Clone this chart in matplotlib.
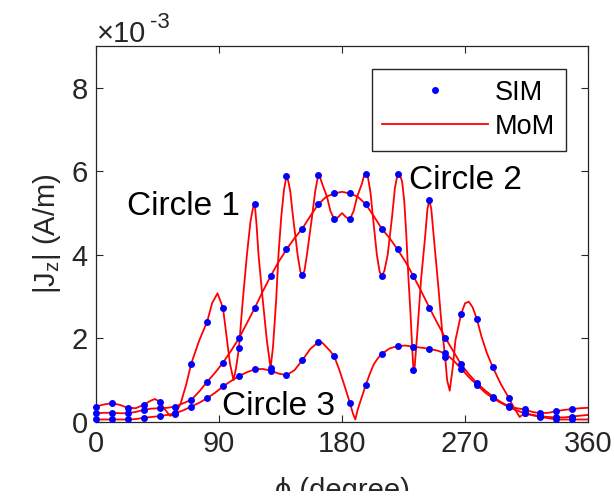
import numpy as np
import matplotlib
matplotlib.use("Agg")
import matplotlib.pyplot as plt
from matplotlib.ticker import FuncFormatter
from matplotlib.transforms import Bbox, TransformedBbox

plt.rcParams['font.family'] = ['Liberation Sans', 'DejaVu Sans']
plt.rcParams['mathtext.fontset'] = 'custom'
plt.rcParams['mathtext.rm'] = 'Liberation Sans'
plt.rcParams['mathtext.it'] = 'Liberation Sans:italic'

# --- SIM samples (31 angles, |Jz| in 1e-3 A/m) ---
sim_phi = np.arange(31) * 360 / 31
sim_c1 = [0.37, 0.45, 0.34, 0.41, 0.49, 0.18, 1.40, 2.40, 2.73, 1.76, 5.23, 1.29, 5.89, 3.52, 5.91, 4.86,
          4.86, 5.93, 3.49, 5.93, 1.24, 5.31, 1.55, 2.58, 2.46, 1.31, 0.58, 0.21, 0.14, 0.11, 0.13]
sim_c2 = [0.21, 0.22, 0.21, 0.29, 0.33, 0.37, 0.53, 0.96, 1.42, 2.00, 2.73, 3.49, 4.13, 4.63, 5.21, 5.47,
          5.47, 5.21, 4.63, 4.13, 3.49, 2.74, 2.02, 1.38, 0.93, 0.61, 0.38, 0.30, 0.21, 0.26, 0.31]
sim_c3 = [0.06, 0.06, 0.06, 0.10, 0.14, 0.21, 0.37, 0.57, 0.85, 1.10, 1.26, 1.23, 1.12, 1.48, 1.91, 1.58,
          0.45, 0.89, 1.63, 1.82, 1.80, 1.75, 1.64, 1.28, 0.89, 0.57, 0.36, 0.21, 0.12, 0.06, 0.06]

# --- MoM curves ---
mom1_phi = [0, 5.8, 11.61, 17.4, 23.23, 29, 34.84, 40, 43, 46.45, 50, 54, 58.06, 62, 66, 69.68, 75.5, 81.29,
            85, 88.9, 92.9, 95.5, 98, 100.6, 102.5, 104.52, 106, 107.4, 110.4, 113, 115, 116.13, 117.5, 118.9,
            122, 125, 127.74, 129.5, 131.8, 133.5, 135.5, 137.5, 139.35, 140.8, 142.2, 144, 147.5, 149.5,
            150.97, 152.5, 154.3, 158, 160.5, 162.58, 164, 165.5, 169, 171.5, 174.19, 177, 180, 183, 185.81,
            188.5, 191, 194.5, 196, 197.42, 199, 200.8, 202.6, 205.5, 207.5, 209.03, 211, 213.4, 216.6, 218.7,
            220.65, 222.3, 224, 225.5, 227, 228.5, 230.1, 231.3, 232.26, 232.8, 235, 237.8, 240.7, 242.5,
            243.87, 245.3, 247.5, 250.3, 253.2, 255.48, 256.9, 258.8, 261, 263, 267.1, 270, 272.7, 275.5,
            278.71, 282, 286, 290.32, 296, 301.94, 306, 310, 313.55, 319.4, 325.16, 331, 336.77, 342.6,
            348.39, 354, 360]
mom1_j = [0.37, 0.42, 0.45, 0.41, 0.34, 0.33, 0.41, 0.51, 0.55, 0.49, 0.32, 0.15, 0.18, 0.45, 0.90, 1.40, 1.95,
          2.40, 2.85, 3.08, 2.73, 2.05, 1.40, 1.00, 1.30, 1.76, 2.35, 2.92, 4.00, 4.80, 5.15, 5.23, 4.70, 4.00,
          2.92, 1.95, 1.29, 1.80, 2.92, 4.00, 4.90, 5.55, 5.89, 5.75, 5.50, 4.95, 4.00, 3.60, 3.52, 3.62, 4.00,
          4.90, 5.55, 5.91, 5.85, 5.70, 5.39, 5.05, 4.86, 4.90, 5.00, 4.90, 4.86, 5.05, 5.39, 5.70, 5.88, 5.93,
          5.85, 5.50, 4.91, 4.00, 3.60, 3.49, 3.62, 4.00, 4.91, 5.60, 5.93, 5.92, 5.75, 5.30, 4.50, 3.50, 2.60,
          1.80, 1.24, 1.17, 2.10, 3.40, 4.40, 5.10, 5.31, 5.10, 4.30, 3.30, 2.20, 1.55, 1.00, 0.75, 1.30, 1.96,
          2.58, 2.84, 2.88, 2.75, 2.46, 2.05, 1.65, 1.31, 0.92, 0.58, 0.33, 0.12, 0.21, 0.17, 0.14, 0.12, 0.11,
          0.11, 0.13, 0.15, 0.17]

mom2_phi = [0, 5.8, 11.61, 17.4, 23.23, 29, 34.84, 40.6, 46.45, 52.3, 58.06, 63.9, 69.68, 75.5, 81.29, 87.1,
            92.9, 98.7, 104.52, 110.3, 116.13, 121.9, 127.74, 133.5, 139.35, 145.2, 150.97, 156.8, 162.58,
            168.4, 174.19, 180, 185.81, 191.6, 197.42, 203.2, 209.03, 214.8, 220.65, 226.5, 232.26, 238.1,
            243.87, 249.7, 255.48, 261.3, 267.1, 272.9, 278.71, 284.5, 290.32, 296.1, 301.94, 307.7, 313.55,
            319.4, 325.16, 331, 336.77, 342.6, 348.39, 354.2, 360]
mom2_j = [0.21, 0.22, 0.22, 0.21, 0.21, 0.24, 0.29, 0.32, 0.33, 0.34, 0.37, 0.45, 0.53, 0.73, 0.96, 1.18, 1.42,
          1.70, 2.00, 2.36, 2.73, 3.12, 3.49, 3.83, 4.13, 4.40, 4.63, 4.93, 5.21, 5.39, 5.47, 5.51, 5.47, 5.39,
          5.21, 4.93, 4.63, 4.40, 4.13, 3.83, 3.49, 3.12, 2.74, 2.37, 2.02, 1.70, 1.38, 1.14, 0.93, 0.76, 0.61,
          0.48, 0.38, 0.33, 0.30, 0.24, 0.21, 0.22, 0.26, 0.29, 0.31, 0.33, 0.34]

mom3_phi = [0, 11.61, 23.23, 29, 34.84, 40.6, 46.45, 52.3, 58.06, 63.9, 69.68, 75.5, 81.29, 87.1, 92.9, 98.7,
            104.52, 110.3, 116.13, 121.9, 127.74, 133.5, 139.35, 145.2, 150.97, 156.8, 162.58, 165.5, 168.4,
            171.3, 174.19, 178, 182, 185.81, 188, 189.7, 191.5, 194.5, 197.42, 200.3, 203.2, 206.1, 209.03,
            214.8, 220.65, 226.5, 232.26, 238.1, 243.87, 249.7, 255.48, 261.3, 267.1, 272.9, 278.71, 284.5,
            290.32, 296.1, 301.94, 307.7, 313.55, 319.4, 325.16, 331, 336.77, 342.6, 348.39, 354.2, 360]
mom3_j = [0.06, 0.06, 0.06, 0.07, 0.10, 0.12, 0.14, 0.17, 0.21, 0.28, 0.37, 0.46, 0.57, 0.70, 0.85, 0.98, 1.10,
          1.19, 1.26, 1.27, 1.23, 1.16, 1.12, 1.24, 1.48, 1.75, 1.91, 1.90, 1.80, 1.70, 1.58, 1.25, 0.85, 0.45,
          0.20, 0.06, 0.30, 0.60, 0.89, 1.15, 1.38, 1.52, 1.63, 1.76, 1.82, 1.83, 1.80, 1.78, 1.75, 1.71, 1.64,
          1.48, 1.28, 1.07, 0.89, 0.71, 0.57, 0.46, 0.36, 0.28, 0.21, 0.16, 0.12, 0.09, 0.06, 0.06, 0.06, 0.06,
          0.06]

xticks = [0, 90, 180, 270, 360]
yticks = [0, 2, 4, 6, 8]
dark = '#262626'

fig = plt.figure(figsize=(6.14, 5.0), dpi=100)
ax = fig.add_axes([0.1564, 0.156, 0.8013, 0.752])

for mphi, mj in [(mom1_phi, mom1_j), (mom2_phi, mom2_j), (mom3_phi, mom3_j)]:
    ax.plot(mphi, np.array(mj) * 1e-3, color='red', lw=1.3, zorder=2)
for sj in [sim_c1, sim_c2, sim_c3]:
    ax.plot(sim_phi, np.array(sj) * 1e-3, 'o', color='blue', ms=5, mec='none', zorder=3, clip_on=False)

# legend proxies
h_sim, = ax.plot([], [], 'o', color='blue', ms=5, mec='none')
h_mom, = ax.plot([], [], color='red', lw=1.3)
leg = ax.legend([h_sim, h_mom], ['SIM', 'MoM'], loc='upper right', bbox_to_anchor=(0.955, 0.939),
                fontsize=19.5, frameon=True, fancybox=False, edgecolor=dark, framealpha=1,
                handlelength=3.9, handletextpad=0.25, labelspacing=0.3, borderpad=0.4, borderaxespad=0)
leg.get_frame().set_linewidth(1.0)

ax.set_xlim(0, 360)
ax.set_ylim(0, 9e-3)
ax.set_xticks(xticks)
ax.set_yticks([v * 1e-3 for v in yticks])
ax.yaxis.set_major_formatter(FuncFormatter(lambda v, p: f'{v * 1e3:g}'))
ax.tick_params(direction='in', top=True, right=True, length=5, width=0.8, labelsize=21,
               colors=dark, pad=6)
for s in ax.spines.values():
    s.set_color(dark)
    s.set_linewidth(0.9)

ax.set_ylabel(r'|J$_\mathregular{z}$| (A/m)', fontsize=21, color=dark, labelpad=6)

# x label sits partly below the bottom edge, cut as in the original
xl = fig.text(342 / 614, 0.002, 'ϕ (degree)', fontsize=21, color=dark, ha='center', va='baseline')
xl.set_clip_box(TransformedBbox(Bbox([[0, 0.018], [1, 1]]), fig.transFigure))
xl.set_clip_on(True)

ax.text(0.002, 1.0106, '×10', transform=ax.transAxes, fontsize=21, color=dark, ha='left', va='baseline')
ax.text(0.110, 1.048, '-3', transform=ax.transAxes, fontsize=16, color=dark, ha='left', va='baseline')

ax.text(22.5, 4.95e-3, 'Circle 1', fontsize=24, color='black', ha='left', va='baseline')
ax.text(228.7, 5.57e-3, 'Circle 2', fontsize=24, color='black', ha='left', va='baseline')
ax.text(92.5, 0.17e-3, 'Circle 3', fontsize=24, color='black', ha='left', va='baseline')

fig.savefig('out.png', dpi=100)
